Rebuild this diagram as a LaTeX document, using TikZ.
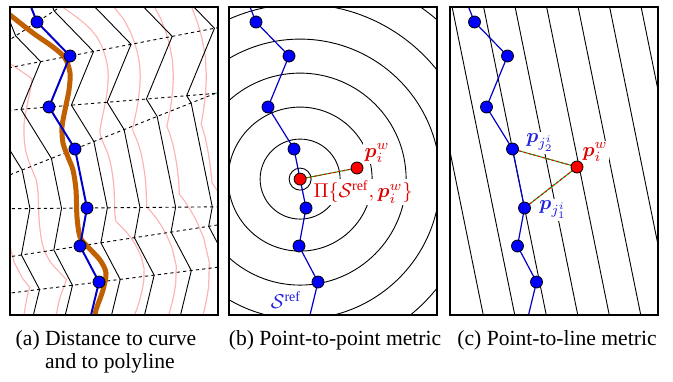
\documentclass[tikz,border=0pt]{standalone}
\usepackage{fontspec}
\setmainfont{Liberation Serif}
\usepackage{amsmath}
\usepackage{bm}
\usetikzlibrary{calc}
\definecolor{polyblue}{HTML}{0000C8}
\definecolor{dotblue}{HTML}{0000FF}
\definecolor{curveorange}{HTML}{C06000}
\definecolor{levelpink}{HTML}{FFB0B0}
\definecolor{linkgreen}{HTML}{00A000}
\definecolor{ptred}{HTML}{FF0000}
\definecolor{labelred}{HTML}{E00000}
\definecolor{labelblue}{HTML}{2020E0}
\definecolor{axiscyan}{HTML}{00B0C0}
\tikzset{
  panel/.style    = {draw=black, line width=0.8pt},
  polyline/.style = {draw=polyblue, line width=0.6pt},
  vertex/.style   = {circle, draw=black, fill=dotblue, line width=0.4pt,
                     inner sep=0pt, minimum size=6pt},
  projdot/.style  = {vertex, fill=ptred},
  level/.style    = {draw=black, line width=0.45pt},
  bisector/.style = {draw=black, line width=0.45pt, dash pattern=on 1.6pt off 1.6pt},
  link/.style     = {draw=linkgreen, line width=0.5pt,
                     postaction={draw=ptred, dash pattern=on 1.2pt off 1.2pt}},
  mlabel/.style   = {fill=white, inner sep=1pt, font=\fontsize{10}{12}\selectfont},
  caption/.style  = {font=\fontsize{10.8}{11.5}\selectfont},
}
% reference polyline, pixels of one panel
\newcommand{\polyref}[1][0]{%
  \begin{scope}[shift={(#1,0)}]
    \coordinate (Q0) at (21,0);
    \coordinate (Q1) at (27,15);
    \coordinate (Q2) at (60,49);
    \coordinate (Q3) at (39,100);
    \coordinate (Q4) at (65,142);
    \coordinate (Q5) at (77,201);
    \coordinate (Q6) at (70,239);
    \coordinate (Q7) at (89,275);
    \coordinate (Q8) at (81,308);
  \end{scope}
  \coordinate (Qs) at ($(Q1)!5!(Q0)$);
  \coordinate (Qe) at ($(Q7)!4!(Q8)$);
}
\newcommand{\polypath}{(Qs) -- (Q1) -- (Q2) -- (Q3) -- (Q4) -- (Q5) -- (Q6) -- (Q7) -- (Qe)}
\newcommand{\orangecurve}{plot[smooth] coordinates {(-120,-86) (-60,-39) (0,8) (23,26)
  (43,40) (55,51) (60,66) (59,83) (55,103) (52,120) (53,136) (58,150) (63,163) (66,183)
  (67,210) (70,230) (78,240) (90,253) (96,266) (93,283) (87,300) (85,308) (80,340) (70,420)}}

\begin{document}
\begin{tikzpicture}[x=0.5pt, y=-0.5pt]
  \useasboundingbox (0,0) rectangle (673,381);
  \fill[white] (0,0) rectangle (673,381);

  % (a) distance to curve and to polyline
  \begin{scope}[shift={(10,7)}, name prefix=a-]
    \polyref
    \foreach \k [evaluate=\k as \prv using int(\k-1), evaluate=\k as \nxt using int(\k+1)] in {1,...,7} {
      \coordinate (A\k) at ($(Q\k)!10pt!(Q\prv)$);
      \coordinate (B\k) at ($(Q\k)!10pt!(Q\nxt)$);
      \coordinate (M\k) at ($(A\k)!0.5!(B\k)$);
      \coordinate (L\k) at ($(Q\k)!-300pt!(M\k)$);
      \coordinate (R\k) at ($(Q\k)!300pt!(M\k)$);
    }
    \coordinate (X) at (intersection cs: first line={(L3)--(R3)}, second line={(L4)--(R4)});
    \begin{scope}
      \clip (0,0) rectangle (208,308);
      % level sets of the curve
      \foreach \d in {136,103,70,38} {
        \draw[levelpink, line width=\d pt+0.6pt] \orangecurve;
        \draw[white, line width=\d pt-0.6pt] \orangecurve;
      }
      % level sets of the polyline
      \foreach \d in {56,25,-20,-52,-87,-123} {
        \foreach \k [evaluate=\k as \nxt using int(\k+1)] in {0,...,7} {
          \coordinate (S\k) at ($(Q\k)!{\d*0.5pt}!-90:(Q\nxt)$);
          \coordinate (T\k) at ($(Q\nxt)!{\d*0.5pt}!90:(Q\k)$);
        }
        \foreach \k [evaluate=\k as \prv using int(\k-1)] in {1,...,7}
          \coordinate (C\k) at (intersection cs: first line={(S\prv)--(T\prv)}, second line={(S\k)--(T\k)});
        \draw[level] ($(Qs)!{\d*0.5pt}!-90:(Q1)$) -- (C1) -- (C2) -- (C3) -- (C4)
          -- (C5) -- (C6) -- (C7) -- ($(Qe)!{\d*0.5pt}!90:(Q7)$);
      }
      \foreach \k in {1,2,5,6,7}
        \draw[bisector] (L\k) -- (R\k);
      \draw[bisector] (X) -- ($(X)!3!(Q3)$);
      \draw[bisector] (X) -- ($(X)!3!(Q4)$);
      \draw[bisector, draw=axiscyan] (X) -- ($(X)+(45,-7)$);
      \draw[curveorange, line width=2.5pt] \orangecurve;
      \draw[polyline, line width=1pt] \polypath;
    \end{scope}
    \foreach \k in {1,...,7}
      \node[vertex] (v\k) at (Q\k) {};
    \draw[panel] (0,0) rectangle (208,308);
  \end{scope}

  % (b) point-to-point metric
  \begin{scope}[shift={(229,7)}, name prefix=b-]
    \polyref
    \coordinate (projpt) at ($(Q4)!0.51!(Q5)$);
    \coordinate (querypt) at (128,161);
    \begin{scope}
      \clip (0,0) rectangle (208,308);
      \foreach \r in {11,40,72,106,140,175,210}
        \draw[level] (projpt) circle[radius=\r];
      \node[mlabel, text=labelred] (querylabel) at (148,146) {$\bm{p}_i^w$};
      \node[mlabel, text=labelred] (projlabel) at (134,185) {$\Pi\{\mathcal{S}^{\text{ref}},\bm{p}_i^w\}$};
      \node[mlabel, text=labelblue] (sref) at (57,293) {$\mathcal{S}^{\text{ref}}$};
      \draw[polyline] \polypath;
    \end{scope}
    \draw[link] (projpt) -- (querypt);
    \foreach \k in {1,...,7}
      \node[vertex] (v\k) at (Q\k) {};
    \node[projdot] (proj) at (projpt) {};
    \node[projdot] (query) at (querypt) {};
    \draw[panel] (0,0) rectangle (208,308);
  \end{scope}

  % (c) point-to-line metric
  \begin{scope}[shift={(450,7)}, name prefix=c-]
    \polyref[-2.5]
    \coordinate (querypt) at (127,160);
    \begin{scope}
      \clip (0,0) rectangle (208,308);
      \foreach \k in {-2,...,6}
        \draw[level] ($(Q4)!-4!(Q5)+({31.5*\k},0)$) -- ($(Q4)!7!(Q5)+({31.5*\k},0)$);
      \node[mlabel, text=labelblue] (jtwo) at (90,136) {$\bm{p}_{j_2^i}$};
      \node[mlabel, text=labelred] (querylabel) at (145,145) {$\bm{p}_i^w$};
      \node[mlabel, text=labelblue] (jone) at (103,203) {$\bm{p}_{j_1^i}$};
      \draw[polyline] \polypath;
    \end{scope}
    \draw[link] (querypt) -- (Q4);
    \draw[link] (querypt) -- (Q5);
    \foreach \k in {1,...,7}
      \node[vertex] (v\k) at (Q\k) {};
    \node[projdot] (query) at (querypt) {};
    \draw[panel] (0,0) rectangle (208,308);
  \end{scope}

  % captions
  \node[caption, anchor=base] (capa) at (106,345)
       {\begin{tabular}[t]{@{}l@{ }l@{}}(a) & Distance to curve\\ & and to polyline\end{tabular}};
  \node[caption, anchor=base] (capb) at (335,345) {(b) Point-to-point metric};
  \node[caption, anchor=base] (capc) at (557,345) {(c) Point-to-line metric};
\end{tikzpicture}
\end{document}
